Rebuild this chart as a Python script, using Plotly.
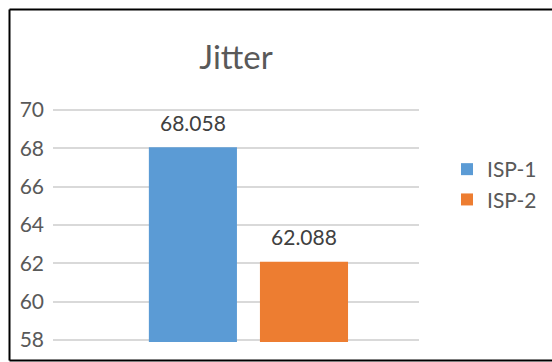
import plotly.graph_objects as go

series = ["ISP-1", "ISP-2"]
values = [68.058, 62.088]
colors = ["#5B9BD5", "#ED7D31"]
category = [""]
title = "Jitter"
y_ticks = [58, 60, 62, 64, 66, 68, 70]

W, H = 552, 362
L, R, T, B = 53, 133, 108, 20
pw, ph = W - L - R, H - T - B
BARGAP = 0.393

fig = go.Figure()
for name, v, c in zip(series, values, colors):
    fig.add_trace(go.Bar(
        x=category, y=[v], name=name, marker_color=c, marker_line_width=0,
    ))
# data labels (grouped like the bars)
for name, v in zip(series, values):
    fig.add_trace(go.Scatter(
        x=category, y=[v], mode="markers+text", showlegend=False, hoverinfo="skip",
        text=[f"{v:.3f}"], textposition="top center", cliponaxis=False,
        marker=dict(size=16, opacity=0),
        textfont=dict(color="#404040", size=21),
    ))

def px2x(p):
    return (p - L) / pw

def px2y(p):
    return (H - B - p) / ph

border = dict(color="black", width=2)
xl, xr, yt, yb = px2x(9.5), px2x(W + 5), px2y(9.5), px2y(360.5)

fig.update_layout(
    width=W, height=H,
    margin=dict(l=L, r=R, t=T, b=B, pad=0, autoexpand=False),
    paper_bgcolor="white", plot_bgcolor="white",
    font=dict(family="Lato, 'Open Sans', sans-serif", color="#595959", size=21),
    title=dict(text=title, x=236 / W, xanchor="center", y=1 - 57 / H, yanchor="middle",
               font=dict(size=33, color="#595959")),
    barmode="group", bargap=BARGAP, bargroupgap=0.207,
    scattermode="group", scattergap=BARGAP,
    showlegend=True,
    legend=dict(x=px2x(447), xanchor="left", y=px2y(149), yanchor="top",
                font=dict(size=21, color="#595959"), tracegroupgap=0,
                bgcolor="rgba(0,0,0,0)"),
    xaxis=dict(range=[-0.534, 0.466], showticklabels=False, showgrid=False,
               zeroline=False, showline=False),
    yaxis=dict(range=[57.9, 70.1], tickvals=y_ticks, showgrid=True, gridcolor="#D9D9D9",
               gridwidth=1.5, zeroline=False, showline=False, ticks="",
               tickfont=dict(size=21, color="#595959"), ticklabelstandoff=8),
    shapes=[
        dict(type="line", xref="paper", yref="paper", x0=xl, x1=xl, y0=yb, y1=yt, line=border, layer="above"),
        dict(type="line", xref="paper", yref="paper", x0=xl, x1=xr, y0=yt, y1=yt, line=border, layer="above"),
        dict(type="line", xref="paper", yref="paper", x0=xl, x1=xr, y0=yb, y1=yb, line=border, layer="above"),
    ],
)

fig.write_html("out.html")
